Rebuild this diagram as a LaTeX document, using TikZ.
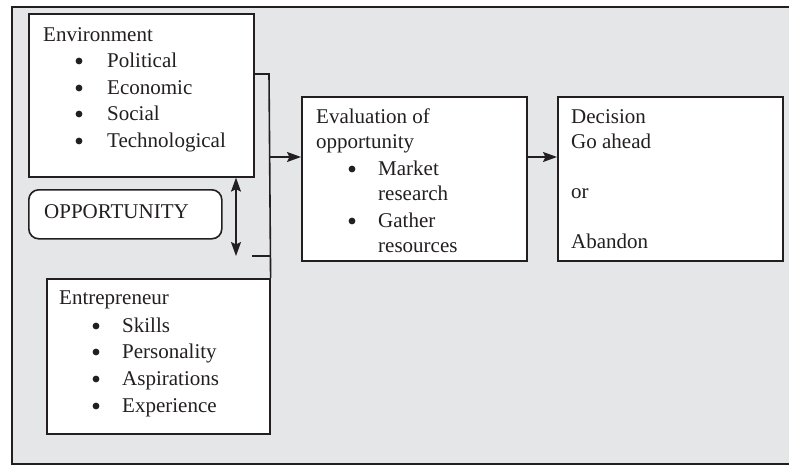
\documentclass[tikz,border=0pt]{standalone}
\usepackage{fontspec}
\setmainfont{Liberation Serif}
\usetikzlibrary{arrows.meta}
\definecolor{bgray}{HTML}{E5E6E8}
\definecolor{ink}{HTML}{231F20}
\begin{document}
\begin{tikzpicture}[x=1pt,y=-1pt,
  box/.style={draw=ink, line width=1.6pt, fill=white, rectangle, inner sep=0pt, anchor=north west},
  txt/.style={anchor=base west, inner sep=0pt, text=ink, font=\fontsize{21}{25}\selectfont},
  bul/.style={circle, fill=ink, inner sep=0pt, minimum size=6.8pt},
  conn/.style={draw=ink, line width=1.6pt},
  arr/.style={conn, -{Stealth[length=14pt,width=10pt,inset=2.5pt]}},
  darr/.style={conn, {Stealth[length=14pt,width=10pt,inset=2.5pt]}-{Stealth[length=14pt,width=10pt,inset=2.5pt]}}]
\useasboundingbox (0,0) rectangle (789,466);
\clip (0,0) rectangle (789,466);
\draw[draw=ink, line width=1.8pt, fill=bgray] (12,7) rectangle (800,464);
% boxes
\node[box, minimum width=225pt, minimum height=163pt] (env) at (28,13) {};
\node[box, rounded corners=10pt, minimum width=193pt, minimum height=49pt] (opp) at (28,189) {};
\node[box, minimum width=223pt, minimum height=155pt] (ent) at (46,278) {};
\node[box, minimum width=225pt, minimum height=164pt] (eval) at (301,96) {};
\node[box, minimum width=225pt, minimum height=164pt] (dec) at (557,96) {};
% environment text
\node[txt] (envt) at (43,41) {Environment};
\node[bul] (eb1) at (79,61) {};
\node[bul] (eb2) at (79,88) {};
\node[bul] (eb3) at (79,114) {};
\node[bul] (eb4) at (79,141) {};
\node[txt] (et1) at (107,67) {Political};
\node[txt] (et2) at (107,94) {Economic};
\node[txt] (et3) at (107,120) {Social};
\node[txt] (et4) at (107,147) {Technological};
% opportunity
\node[txt] (oppt) at (44,218) {OPPORTUNITY};
% entrepreneur
\node[txt] (entt) at (59,304) {Entrepreneur};
\node[bul] (nb1) at (96,326) {};
\node[bul] (nb2) at (96,352) {};
\node[bul] (nb3) at (96,379) {};
\node[bul] (nb4) at (96,406) {};
\node[txt] (nt1) at (122,332) {Skills};
\node[txt] (nt2) at (122,358) {Personality};
\node[txt] (nt3) at (122,385) {Aspirations};
\node[txt] (nt4) at (122,412) {Experience};
% evaluation
\node[txt] (vt1) at (316,123) {Evaluation of};
\node[txt] (vt2) at (316,148) {opportunity};
\node[bul] (vb1) at (352,169) {};
\node[bul] (vb2) at (352,221) {};
\node[txt] (vt3) at (378,175) {Market};
\node[txt] (vt4) at (378,200) {research};
\node[txt] (vt5) at (378,227) {Gather};
\node[txt] (vt6) at (378,252) {resources};
% decision
\node[txt] (dt1) at (571,123) {Decision};
\node[txt] (dt2) at (571,148) {Go ahead};
\node[txt] (dt3) at (571,198) {or};
\node[txt] (dt4) at (571,248) {Abandon};
% connectors
\coordinate (j1) at (269,74);
\coordinate (ja) at (269,157);
\coordinate (s1) at (252,256);
\coordinate (d1) at (236,256);
\draw[conn] (env.east |- j1) -- (j1) -- (ent.north east);
\draw[conn] (s1) -- (s1 -| ent.north east);
\draw[arr] (ja) -- (ja -| eval.west);
\draw[arr] (eval.east |- ja) -- (dec.west |- ja);
\draw[darr] (d1 |- env.south) -- (d1);
\end{tikzpicture}
\end{document}
